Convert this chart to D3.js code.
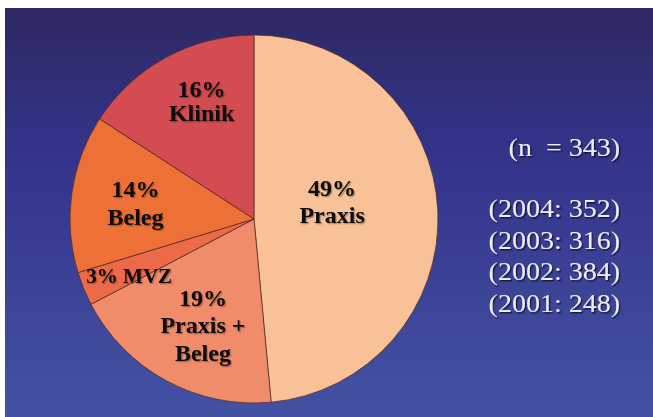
<!DOCTYPE html>
<html>
<head>
<meta charset="utf-8">
<script src="https://cdn.jsdelivr.net/npm/d3@7"></script>
<style>
  html, body { margin: 0; padding: 0; background: #ffffff; }
  svg { display: block; }
  text { white-space: pre; font-family: "Liberation Serif", Tinos, "Times New Roman", Times, "Nimbus Roman", "Nimbus Roman No9 L", "DejaVu Serif", serif; }
</style>
</head>
<body>
<svg id="chart" width="653" height="417"></svg>
<script>
// ---- data ----
const categories = ["Praxis", "Praxis + Beleg", "MVZ", "Beleg", "Klinik"];
const values = [49, 19, 3, 14, 16];
const labelLines = [["49%", "Praxis"], ["19%", "Praxis +", "Beleg"], ["3% MVZ"], ["14%", "Beleg"], ["16%", "Klinik"]];
const sliceColors = ["#F8C198", "#F08C6A", "#EC6A48", "#ED7136", "#D44C52"];
const noteTop = ["(n  = 343)"];
const noteYears = ["(2004: 352)", "(2003: 316)", "(2002: 384)", "(2001: 248)"];

// ---- layout ----
const W = 653, H = 417;
const svg = d3.select("#chart");
const defs = svg.append("defs");
const grad = defs.append("linearGradient").attr("id", "bg").attr("x1", 0).attr("y1", 0).attr("x2", 0).attr("y2", 1);
grad.append("stop").attr("offset", "0%").attr("stop-color", "#2E2962");
grad.append("stop").attr("offset", "35%").attr("stop-color", "#33338A");
grad.append("stop").attr("offset", "100%").attr("stop-color", "#4452A3");

const shLbl = defs.append("filter").attr("id", "shLbl").attr("x", "-20%").attr("y", "-30%").attr("width", "140%").attr("height", "160%");
shLbl.append("feDropShadow").attr("dx", 1.3).attr("dy", 1.3).attr("stdDeviation", 0.5)
  .attr("flood-color", "#000000").attr("flood-opacity", 0.3);
const shNote = defs.append("filter").attr("id", "shNote").attr("x", "-20%").attr("y", "-30%").attr("width", "140%").attr("height", "160%");
shNote.append("feDropShadow").attr("dx", 1.3).attr("dy", 1.5).attr("stdDeviation", 0.5)
  .attr("flood-color", "#0a0a28").attr("flood-opacity", 0.8);

svg.append("rect").attr("width", W).attr("height", H).attr("fill", "#ffffff");
svg.append("rect").attr("x", 5).attr("y", 8).attr("width", W - 5).attr("height", H - 8).attr("fill", "url(#bg)");

const cx = 254, cy = 219, r = 184;
const g = svg.append("g").attr("transform", `translate(${cx},${cy})`);

const data = categories.map((c, i) => ({ cat: c, value: values[i], lines: labelLines[i], color: sliceColors[i] }));
const pie = d3.pie().sort(null).value(d => d.value).startAngle(0).endAngle(2 * Math.PI);
const arcs = pie(data);
const arc = d3.arc().innerRadius(0).outerRadius(r);

g.selectAll("path.slice").data(arcs).join("path")
  .attr("class", "slice")
  .attr("d", arc)
  .attr("fill", d => d.data.color)
  .attr("stroke", "#4a2a20")
  .attr("stroke-width", 0.7)
  .attr("stroke-linejoin", "round");

// label placement: radius factor and angle tweak (degrees) per category
const labelPlace = {
  "Praxis": { k: 0.435, da: -10, lh: 26.5, fs: 24 },
  "Praxis + Beleg": { k: 0.64, da: -2.8, lh: 27.5, fs: 24 },
  "MVZ": { k: 0.745, da: -2.2, lh: 0, fs: 21 },
  "Beleg": { k: 0.65, da: -0.3, lh: 28, fs: 24 },
  "Klinik": { k: 0.70, da: 4.5, lh: 24, fs: 24 }
};

const labels = g.selectAll("g.lbl").data(arcs).join("g").attr("class", "lbl")
  .attr("filter", "url(#shLbl)")
  .attr("transform", d => {
    const p = labelPlace[d.data.cat];
    const a = (d.startAngle + d.endAngle) / 2 + p.da * Math.PI / 180;
    const rr = p.k * r;
    const x = rr * Math.sin(a), y = -rr * Math.cos(a);
    return `translate(${x},${y})`;
  });

labels.each(function(d) {
  const p = labelPlace[d.data.cat];
  const n = d.data.lines.length;
  const capOff = p.fs * 0.33;
  d3.select(this).selectAll("text").data(d.data.lines).join("text")
    .attr("x", 0)
    .attr("y", (t, i) => capOff - (n - 1) * p.lh / 2 + i * p.lh)
    .attr("text-anchor", "middle")
    .attr("font-weight", "bold")
    .attr("font-size", p.fs)
    .attr("fill", "#0a0a0a")
    .text(t => t);
});

// right-side notes
const notes = svg.append("g").attr("transform", "translate(620,0)").attr("filter", "url(#shNote)");
function drawNotes(lines, baselines) {
  lines.forEach((t, i) => {
    notes.append("g").attr("transform", `translate(0,${baselines[i]}) scale(1.12,1)`)
      .append("text").attr("x", 0).attr("y", 0).attr("text-anchor", "end")
      .attr("font-size", 25).attr("fill", "#ECECF3").text(t);
  });
}
drawNotes(noteTop, [156]);
drawNotes(noteYears, noteYears.map((_, i) => 217 + i * 31.7));
</script>
</body>
</html>
